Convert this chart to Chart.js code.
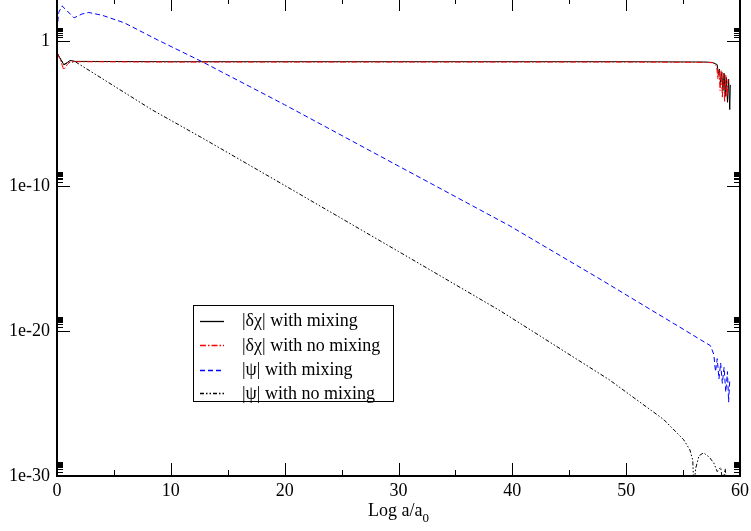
<!DOCTYPE html>
<html>
<head>
<meta charset="utf-8">
<script src="https://cdn.jsdelivr.net/npm/chart.js@4.4.1/dist/chart.umd.min.js"></script>
<style>
  html, body { margin: 0; padding: 0; background: #fff; overflow: hidden; }
  #wrap { position: absolute; left: 0; top: -2px; width: 751px; height: 533px; }
</style>
</head>
<body>
<div id="wrap"><canvas id="c"></canvas></div>
<script>
// ---- data ----
const xTicks = [0, 10, 20, 30, 40, 50, 60];
const yTicks = [1e-30, 1e-20, 1e-10, 1];
const yTickLabels = ['1e-30', '1e-20', '1e-10', '1'];
const legendLabels = ['|\u03b4\u03c7| with mixing', '|\u03b4\u03c7| with no mixing', '|\u03c8| with mixing', '|\u03c8| with no mixing'];
const xTitle = 'Log a/a';
const xTitleSub = '0';

// |δχ| with mixing
const xDchiMix = [0, 0.3, 0.6, 0.9, 1.15, 1.6, 10, 30, 50, 57, 57.6, 58.0, 58.1, 58.2, 58.3, 58.4, 58.5, 58.6, 58.7, 58.8, 58.9, 59.0, 59.1, 59.15];
const yDchiMix = [0.166, 6.3e-2, 2.5e-2, 3.5e-2, 4.9e-2, 4.2e-2, 4e-2, 4e-2, 4e-2, 3.8e-2, 3.5e-2, 2.5e-2, 5e-3, 1.26e-2, 1e-3, 7.9e-3, 4e-4, 6.3e-3, 1.6e-4, 3.2e-3, 6.3e-5, 2.5e-3, 2e-5, 1e-3];

// |δχ| with no mixing
const xDchiNoMix = [0, 0.3, 0.6, 0.9, 1.2, 1.8, 10, 30, 50, 57, 57.6, 57.95, 58.05, 58.15, 58.25, 58.35, 58.45, 58.55, 58.65, 58.75, 58.85, 58.95];
const yDchiNoMix = [0.166, 5e-2, 1.1e-2, 2.5e-2, 4.5e-2, 4e-2, 3.8e-2, 3.8e-2, 3.8e-2, 3.6e-2, 3.4e-2, 2e-2, 2.5e-3, 1.26e-2, 4e-4, 1e-2, 1.26e-4, 6.3e-3, 6.3e-5, 5e-3, 1.6e-4, 2.5e-3];

// |ψ| with mixing
const xPsiMix = [0, 0.15, 0.44, 0.9, 1.5, 2.2, 2.8, 4, 5.9, 8.8, 12.75, 20, 30, 39.7, 47.8, 52, 55, 56.55, 57.4, 57.7, 57.85, 58.0, 58.15, 58.3, 58.45, 58.6, 58.75, 58.9, 59.0, 59.1];
const yPsiMix = [6.46, 100, 288, 126, 42.7, 79, 100, 63, 19.5, 1.32, 3.98e-2, 4.27e-5, 2.5e-9, 2.0e-13, 3.55e-17, 3.6e-19, 1.38e-20, 2.5e-21, 1e-21, 2.5e-22, 1.6e-23, 1.26e-22, 5e-24, 6.3e-23, 2.5e-24, 3.2e-23, 6.3e-25, 1.6e-23, 1.26e-25, 4e-24];

// |ψ| with no mixing
const xPsiNoMix = [0, 0.3, 0.6, 1.0, 1.6, 5, 8.35, 12.75, 19.6, 30, 38.95, 48.5, 53.3, 55.05, 55.6, 55.85, 55.95, 56.1, 56.4, 56.8, 57.3, 57.7, 58.0, 58.3, 58.5, 58.7, 58.9];
const yPsiNoMix = [0.166, 6.3e-2, 2.5e-2, 3.5e-2, 4e-2, 8.5e-4, 1.9e-5, 2.2e-7, 1.74e-10, 3.16e-15, 2.5e-19, 4.5e-24, 7.9e-27, 3.2e-28, 6.3e-29, 1.26e-29, 1e-31, 3.2e-30, 2.5e-29, 4e-29, 2e-29, 7.9e-30, 2e-30, 4e-30, 3.2e-31, 3.2e-30, 1e-31];

// ---- helpers ----
const zip = (xs, ys) => xs.map((x, i) => ({ x: x, y: ys[i] }));
const FONT = "'Liberation Serif', 'Times New Roman', serif";
const SHIFT = 2; // canvas is moved up by 2px

const styles = [
  { color: '#000000', dash: [], order: 4 },
  { color: '#ff0000', dash: [6, 2, 1.5, 2], order: 1 },
  { color: '#0000ff', dash: [5, 3], order: 2 },
  { color: '#000000', dash: [4, 2, 1.5, 2, 1.5, 2], order: 3 }
];

const datasets = [
  zip(xDchiMix, yDchiMix),
  zip(xDchiNoMix, yDchiNoMix),
  zip(xPsiMix, yPsiMix),
  zip(xPsiNoMix, yPsiNoMix)
].map((d, i) => ({
  label: legendLabels[i],
  data: d,
  order: styles[i].order,
  borderColor: styles[i].color,
  borderDash: styles[i].dash,
  borderWidth: 1,
  pointRadius: 0,
  tension: 0,
  fill: false
}));

const framePlugin = {
  id: 'frame',
  afterDraw(chart) {
    const ctx = chart.ctx;
    const a = chart.chartArea;
    const xs = chart.scales.x, ys = chart.scales.y;
    ctx.save();
    ctx.strokeStyle = '#000';
    // ticks
    ctx.lineWidth = 1;
    ctx.beginPath();
    for (let v = 0; v <= 60; v += 5) {
      const px = Math.round(xs.getPixelForValue(v)) + 0.5;
      const len = (v % 10 === 0) ? 13 : 6;
      ctx.moveTo(px, a.bottom); ctx.lineTo(px, a.bottom - len);
      ctx.moveTo(px, a.top); ctx.lineTo(px, a.top + len);
    }
    yTicks.forEach(v => {
      const py = Math.round(ys.getPixelForValue(v)) + 0.5;
      ctx.moveTo(a.left, py); ctx.lineTo(a.left + 13, py);
      ctx.moveTo(a.right, py); ctx.lineTo(a.right - 13, py);
      for (let k = 2; k <= 9; k++) {
        const pm = Math.round(ys.getPixelForValue(v * k)) + 0.5;
        ctx.moveTo(a.left, pm); ctx.lineTo(a.left + 6, pm);
        ctx.moveTo(a.right, pm); ctx.lineTo(a.right - 6, pm);
      }
    });
    ctx.stroke();
    // frame
    ctx.lineWidth = 2;
    ctx.strokeRect(a.left, a.top, a.right - a.left, a.bottom - a.top);

    // x-axis title with subscript
    ctx.fillStyle = '#000';
    ctx.textBaseline = 'alphabetic';
    ctx.font = '18px ' + FONT;
    const w1 = ctx.measureText(xTitle).width;
    ctx.font = '13px ' + FONT;
    const w2 = ctx.measureText(xTitleSub).width;
    const cx = (a.left + a.right) / 2;
    const sx = cx - (w1 + w2) / 2;
    ctx.font = '18px ' + FONT;
    ctx.fillText(xTitle, sx, 516 + SHIFT);
    ctx.font = '13px ' + FONT;
    ctx.fillText(xTitleSub, sx + w1, 522 + SHIFT);

    // legend box
    const lx = 193, ly = 305 + SHIFT, lw = 200, lh = 96;
    ctx.fillStyle = '#fff';
    ctx.fillRect(lx, ly, lw, lh);
    ctx.lineWidth = 1;
    ctx.strokeStyle = '#000';
    ctx.strokeRect(lx + 0.5, ly + 0.5, lw, lh);
    const rows = [320.7, 345, 369.5, 393];
    ctx.font = '18px ' + FONT;
    ctx.textBaseline = 'middle';
    legendLabels.forEach((lab, i) => {
      const y = Math.round(rows[i] + SHIFT) + 0.5;
      ctx.save();
      ctx.lineWidth = 1.3;
      ctx.strokeStyle = styles[i].color;
      ctx.setLineDash(styles[i].dash);
      ctx.beginPath();
      ctx.moveTo(200, y); ctx.lineTo(224, y);
      ctx.stroke();
      ctx.restore();
      ctx.fillStyle = '#000';
      ctx.fillText(lab, 242, rows[i] + SHIFT + 1);
    });
    ctx.restore();
  }
};

new Chart(document.getElementById('c'), {
  type: 'line',
  data: { datasets: datasets },
  options: {
    responsive: true,
    maintainAspectRatio: false,
    animation: false,
    layout: { padding: { left: 0, right: 11, top: 0, bottom: 0 } },
    plugins: { legend: { display: false }, tooltip: { enabled: false } },
    scales: {
      x: {
        type: 'linear',
        min: 0, max: 60,
        grid: { display: false, drawTicks: false },
        border: { display: false },
        afterBuildTicks: s => { s.ticks = xTicks.map(v => ({ value: v })); },
        ticks: {
          padding: 4,
          color: '#000',
          maxRotation: 0,
          autoSkip: false,
          font: { family: FONT, size: 18 },
          callback: v => String(v)
        },
        afterFit: s => { s.height = 55; s.paddingLeft = 0; s.paddingRight = 0; }
      },
      y: {
        type: 'logarithmic',
        min: 1e-30, max: 1e3,
        grid: { display: false, drawTicks: false },
        border: { display: false },
        afterBuildTicks: s => { s.ticks = yTicks.map(v => ({ value: v })); },
        ticks: {
          padding: 7,
          color: '#000',
          autoSkip: false,
          font: { family: FONT, size: 18 },
          callback: v => { const i = yTicks.indexOf(v); return i >= 0 ? yTickLabels[i] : ''; }
        },
        afterFit: s => { s.width = 57; s.paddingTop = 0; s.paddingBottom = 0; }
      }
    }
  },
  plugins: [framePlugin]
});
</script>
</body>
</html>
